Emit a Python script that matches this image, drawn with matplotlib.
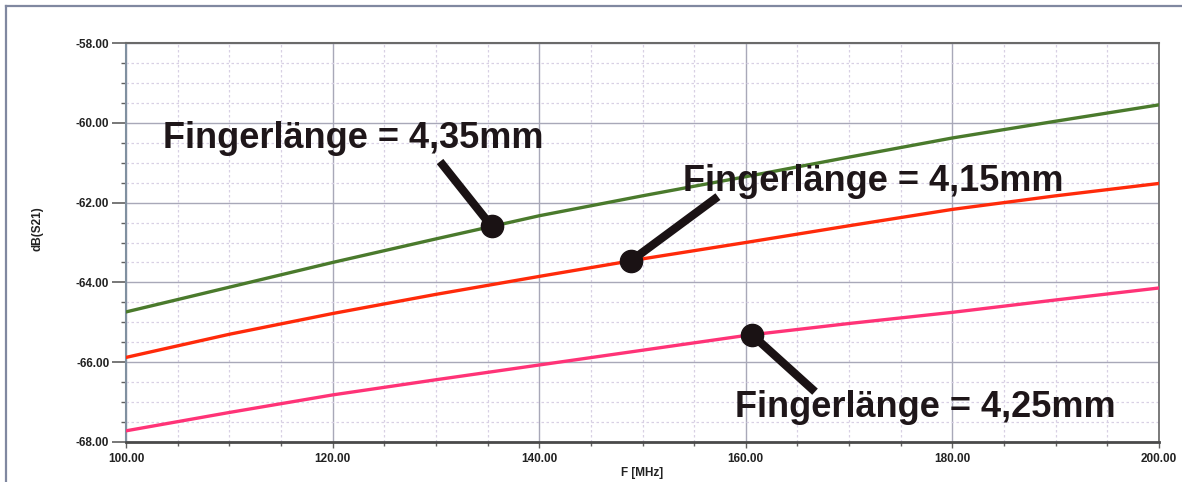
import matplotlib
matplotlib.use('Agg')
import matplotlib.pyplot as plt
from matplotlib.lines import Line2D
from matplotlib.ticker import MultipleLocator, FormatStrFormatter
import numpy as np

# data
freq = [100, 110, 120, 130, 140, 150, 160, 170, 180, 190, 200]
db_435 = [-64.74, -64.12, -63.50, -62.91, -62.33, -61.83, -61.35, -60.86, -60.38, -59.96, -59.55]
db_415 = [-65.88, -65.30, -64.78, -64.30, -63.85, -63.41, -63.00, -62.58, -62.17, -61.83, -61.52]
db_425 = [-67.72, -67.26, -66.82, -66.44, -66.07, -65.70, -65.33, -65.03, -64.75, -64.44, -64.14]

labels = ['Fingerlänge = 4,35mm', 'Fingerlänge = 4,15mm', 'Fingerlänge = 4,25mm']
colours = ['#4a7a2c', '#ff2a0a', '#ff3377']
series = [db_435, db_415, db_425]

# annotation placement: dot frequency, stick end (F, dB), text anchor (F, dB baseline)
dot_freq = [135.4, 148.9, 160.6]
stick_end = [(130.4, -60.97), (157.3, -61.85), (166.7, -66.74)]
text_pos = [(103.6, -60.62), (153.9, -61.70), (158.95, -67.38)]

plt.rcParams['font.family'] = ['Liberation Sans', 'DejaVu Sans']

fig = plt.figure(figsize=(11.82, 4.82), dpi=100)
ax = fig.add_axes([126/1182, 1-442/482, 1033/1182, 399/482])

# outer frame (left and top edges visible)
fig.add_artist(Line2D([6/1182, 6/1182], [0, 1-6/482], color='#8088a0', lw=1.6))
fig.add_artist(Line2D([6/1182, 1], [1-6/482, 1-6/482], color='#8088a0', lw=1.6))

for y, c in zip(series, colours):
    ax.plot(freq, y, '-', color=c, lw=2.4, zorder=3)

for i in range(3):
    yy = np.interp(dot_freq[i], freq, series[i])
    ax.plot([dot_freq[i], stick_end[i][0]], [yy, stick_end[i][1]], '-',
            color='#1a1214', lw=6, solid_capstyle='butt', zorder=4)
    ax.plot(dot_freq[i], yy, 'o', color='#1a1214', ms=16, zorder=5)
    ax.text(text_pos[i][0], text_pos[i][1], labels[i], fontsize=26,
            fontweight='bold', color='#1e1619', va='baseline', ha='left', zorder=6)

ax.set_xlim(100, 200)
ax.set_ylim(-68, -58)
ax.xaxis.set_major_locator(MultipleLocator(20))
ax.xaxis.set_minor_locator(MultipleLocator(5))
ax.yaxis.set_major_locator(MultipleLocator(2))
ax.yaxis.set_minor_locator(MultipleLocator(0.5))
ax.xaxis.set_major_formatter(FormatStrFormatter('%.2f'))
ax.yaxis.set_major_formatter(FormatStrFormatter('%.2f'))

ax.grid(which='major', color='#a8a8b8', lw=1.0, ls='-', zorder=1)
ax.grid(which='minor', color='#d8d0e4', lw=0.9, ls=(0, (2, 2)), zorder=1)
ax.set_axisbelow(True)

ax.tick_params(axis='y', which='major', length=10, width=1.2, color='#606060',
               labelsize=8.5, pad=2, direction='out')
ax.tick_params(axis='y', which='minor', length=3.5, width=1.0, color='#606060', direction='out')
ax.tick_params(axis='x', which='major', length=4, width=1.0, color='#606060',
               labelsize=8.5, pad=4, direction='out')
ax.tick_params(axis='x', which='minor', length=3, width=1.0, color='#606060', direction='out')
for lab in ax.get_xticklabels() + ax.get_yticklabels():
    lab.set_fontweight('bold')
    lab.set_color('#222222')

ax.spines['top'].set_color('#6a6a6a')
ax.spines['top'].set_linewidth(1.5)
ax.spines['right'].set_color('#707070')
ax.spines['right'].set_linewidth(1.3)
ax.spines['left'].set_color('#8090a0')
ax.spines['left'].set_linewidth(1.5)
ax.spines['bottom'].set_color('#4a4a4a')
ax.spines['bottom'].set_linewidth(2)

ax.set_xlabel('F [MHz]', fontsize=8.5, fontweight='bold', color='#222222')
ax.xaxis.set_label_coords(0.5, -0.063)
ax.set_ylabel('dB(S21)', fontsize=8.5, fontweight='bold', color='#222222')
ax.yaxis.set_label_coords(-0.080, 0.534)

fig.savefig('out.png', dpi=100)
